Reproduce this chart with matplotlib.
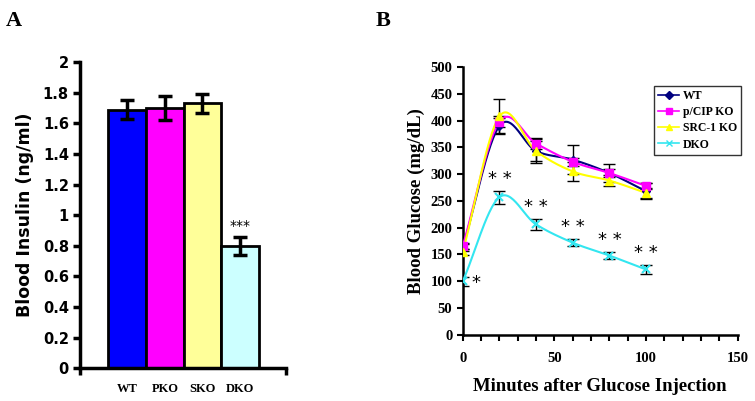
import numpy as np
import matplotlib.pyplot as plt
from matplotlib.ticker import MultipleLocator

# panel A data
groups = ['WT', 'PKO', 'SKO', 'DKO']
insulin = [1.69, 1.70, 1.73, 0.80]
insulin_err = [0.06, 0.08, 0.06, 0.06]
bar_colors = ['#0000FF', '#FF00FF', '#FFFF99', '#CCFFFF']

# panel B data
minutes = [0, 20, 40, 60, 80, 100]
wt = [163, 390, 343, 327, 302, 268]
wt_err = [6, 15, 23, 27, 16, 15]
pko = [166, 398, 357, 323, 302, 278]
pko_err = [6, 10, 11, 8, 8, 5]
src = [155, 408, 343, 305, 288, 265]
src_err = [6, 32, 18, 18, 10, 10]
dko = [100, 257, 206, 172, 148, 122]
dko_err = [8, 12, 10, 7, 7, 8]
series_names = ['WT', 'p/CIP KO', 'SRC-1 KO', 'DKO']
line_colors = ['#000080', '#FF00FF', '#FFFF00', '#33E6F0']
markers = ['D', 's', '^', 'x']


def smooth(x, y, n=30):
    # catmull-rom style smoothing like excel smoothed lines
    x = np.asarray(x, float)
    y = np.asarray(y, float)
    px = np.concatenate([[2 * x[0] - x[1]], x, [2 * x[-1] - x[-2]]])
    py = np.concatenate([[2 * y[0] - y[1]], y, [2 * y[-1] - y[-2]]])
    xs, ys = [], []
    t = np.linspace(0, 1, n)
    for i in range(1, len(px) - 2):
        for p, out in ((px, xs), (py, ys)):
            p0, p1, p2, p3 = p[i - 1], p[i], p[i + 1], p[i + 2]
            out.extend(0.5 * (2 * p1 + (-p0 + p2) * t + (2 * p0 - 5 * p1 + 4 * p2 - p3) * t ** 2
                              + (-p0 + 3 * p1 - 3 * p2 + p3) * t ** 3))
    return xs, ys


fig = plt.figure(figsize=(7.55, 4.01), dpi=100)
serif = 'Liberation Serif'

# ---------- A ----------
ax1 = fig.add_axes([0.106, 0.082, 0.273, 0.763])
xpos = np.arange(len(groups))
ax1.bar(xpos, insulin, width=1.0, color=bar_colors, edgecolor='black', linewidth=2, zorder=2)
ax1.errorbar(xpos, insulin, yerr=insulin_err, fmt='none', ecolor='black', elinewidth=2.5,
             capsize=5, capthick=2.5, zorder=3)
ax1.text(xpos[3], insulin[3] + insulin_err[3] + 0.02, '***', ha='center', va='bottom', fontsize=10)
ax1.set_xlim(-1.25, 4.22)
ax1.set_ylim(0, 2)
ax1.set_yticks(np.arange(0, 2.01, 0.2))
ax1.set_yticklabels(['0', '0.2', '0.4', '0.6', '0.8', '1', '1.2', '1.4', '1.6', '1.8', '2'],
                    fontsize=10.5, fontweight='bold')
ax1.set_xticks(xpos)
ax1.set_xticklabels(groups, fontfamily=serif, fontweight='bold', fontsize=9)
ax1.set_xticks([-1.25, 4.22], minor=True)
ax1.tick_params(axis='x', which='major', length=0, pad=11)
ax1.tick_params(axis='x', which='minor', length=5, width=2.5, direction='out')
ax1.tick_params(axis='y', length=5, width=2.5, direction='out', pad=3)
for s in ['top', 'right']:
    ax1.spines[s].set_visible(False)
for s in ['left', 'bottom']:
    ax1.spines[s].set_linewidth(2.5)
ax1.set_ylabel('Blood Insulin (ng/ml)', fontsize=12.5, fontweight='bold', labelpad=6)
fig.text(0.008, 0.935, 'A', fontfamily=serif, fontweight='bold', fontsize=16)

# ---------- B ----------
ax2 = fig.add_axes([0.613, 0.165, 0.364, 0.668])
all_y = [wt, pko, src, dko]
all_err = [wt_err, pko_err, src_err, dko_err]
handles = []
for yv, ev, c, m, name in zip(all_y, all_err, line_colors, markers, series_names):
    ax2.errorbar(minutes, yv, yerr=ev, fmt='none', ecolor='black', elinewidth=1,
                 capsize=4, capthick=1, zorder=2)
    sx, sy = smooth(minutes, yv)
    ax2.plot(sx, sy, color=c, linewidth=1.5, zorder=3)
    ax2.plot(minutes, yv, linestyle='none', marker=m, color=c, markersize=6 if m != 'D' else 4.5,
             markeredgewidth=1.5 if m == 'x' else 1, zorder=4)
    h, = ax2.plot([], [], color=c, marker=m, markersize=5 if m != 'D' else 4, linewidth=1.2)
    handles.append(h)

# significance stars
ax2.text(7, 97, '*', fontsize=13, ha='center', va='center')
for xm, yv, ev in zip(minutes[1:], dko[1:], dko_err[1:]):
    ax2.text(xm, yv + ev + 6, '* *', fontsize=13, ha='center', va='bottom')

ax2.set_xlim(0, 150)
ax2.set_ylim(0, 500)
ax2.set_xticks([0, 50, 100, 150])
ax2.xaxis.set_minor_locator(MultipleLocator(10))
ax2.yaxis.set_major_locator(MultipleLocator(50))
ax2.tick_params(axis='both', which='both', direction='out', length=4, width=1.5)
for lab in ax2.get_xticklabels() + ax2.get_yticklabels():
    lab.set_fontfamily(serif)
    lab.set_fontweight('bold')
    lab.set_fontsize(10.5)
ax2.tick_params(axis='x', pad=8)
for s in ['top', 'right']:
    ax2.spines[s].set_visible(False)
for s in ['left', 'bottom']:
    ax2.spines[s].set_linewidth(1.8)
ax2.set_ylabel('Blood Glucose (mg/dL)', fontfamily=serif, fontweight='bold', fontsize=13.5, labelpad=4)
ax2.set_xlabel('Minutes after Glucose Injection', fontfamily=serif, fontweight='bold', fontsize=13.5, labelpad=10)
leg = ax2.legend(handles, series_names, loc='upper left', bbox_to_anchor=(0.866, 0.7855),
                 bbox_transform=fig.transFigure, frameon=True, fancybox=False,
                 prop={'family': serif, 'weight': 'bold', 'size': 8.5},
                 handlelength=1.8, handletextpad=0.3, borderpad=0.35, labelspacing=0.35,
                 borderaxespad=0)
leg.get_frame().set_edgecolor('black')
leg.get_frame().set_linewidth(1)
fig.text(0.497, 0.935, 'B', fontfamily=serif, fontweight='bold', fontsize=16)

fig.savefig('out.png', dpi=100)
